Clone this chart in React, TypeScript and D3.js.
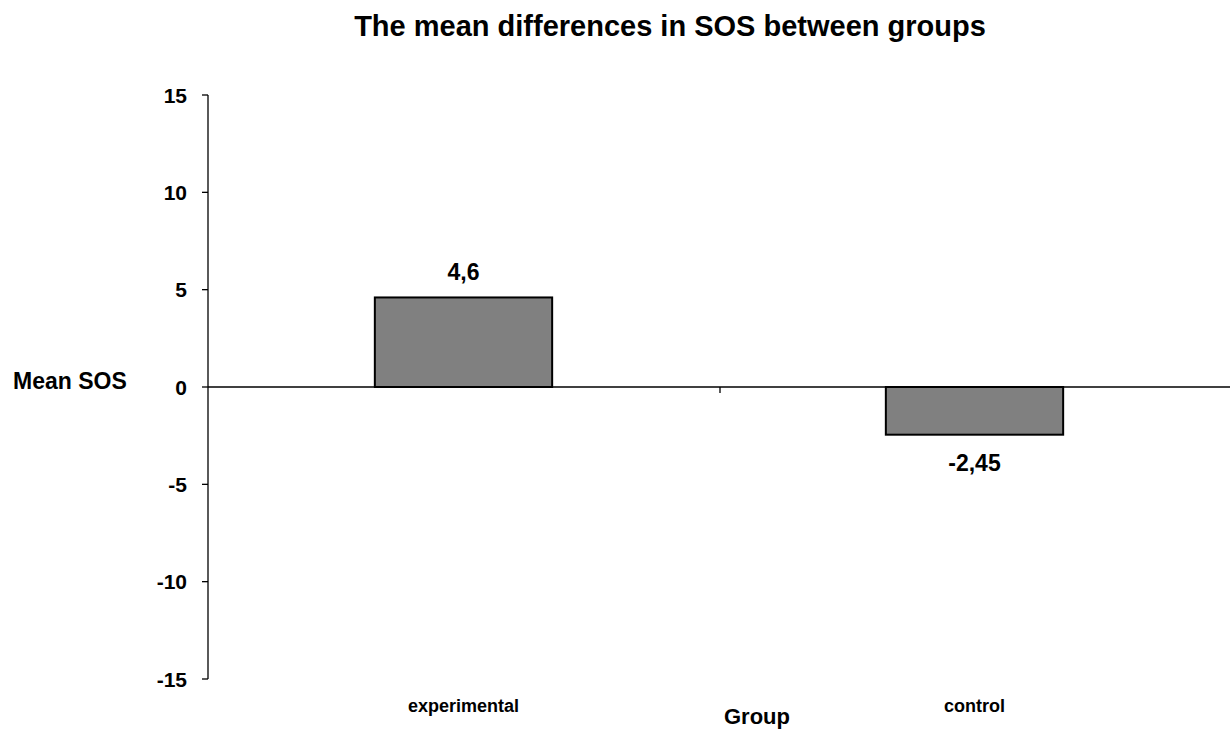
import React from "react";
import * as d3 from "d3";

const categories = ["experimental", "control"];
const values = [4.6, -2.45];
const yTicks = [15, 10, 5, 0, -5, -10, -15];
const title = "The mean differences in SOS between groups";
const yTitle = "Mean SOS";
const xTitle = "Group";

const W = 1230;
const H = 729;
const FONT = "'Liberation Sans', Arial, sans-serif";

export default function App() {
  const y = d3.scaleLinear().domain([-15, 15]).range([679, 95]);
  const x = d3.scaleBand<string>().domain(categories).range([208, 1230]).padding(0);
  const barW = x.bandwidth() * 0.347;
  const fmt = (v: number) => String(v).replace(".", ",");
  const y0 = y(0);

  return (
    <div style={{ position: "fixed", left: 0, top: 0 }}>
      <svg width={W} height={H} style={{ display: "block", background: "#fff" }} fontFamily={FONT} fontWeight="bold">
        <text x={670} y={36} textAnchor="middle" fontSize={29}>{title}</text>
        {/* y axis */}
        <line x1={208} x2={208} y1={y(15)} y2={y(-15)} stroke="#000" strokeWidth={1.3} />
        {yTicks.map((t) => (
          <g key={t}>
            <line x1={202} x2={208} y1={y(t)} y2={y(t)} stroke="#000" strokeWidth={1.3} />
            <text x={187} y={y(t) + 7.5} textAnchor="end" fontSize={21}>{t}</text>
          </g>
        ))}
        <text x={13} y={389} fontSize={23}>{yTitle}</text>
        {/* bars */}
        {categories.map((c, i) => {
          const v = values[i];
          const cx = (x(c) as number) + x.bandwidth() / 2;
          const top = Math.min(y(v), y0);
          const h = Math.abs(y(v) - y0);
          return (
            <g key={c}>
              <rect x={cx - barW / 2} y={top} width={barW} height={h} fill="#808080" stroke="#000" strokeWidth={2} />
              <text x={cx} y={v >= 0 ? y(v) - 17 : y(v) + 36} textAnchor="middle" fontSize={23}>{fmt(v)}</text>
              <text x={cx} y={712} textAnchor="middle" fontSize={18}>{c}</text>
            </g>
          );
        })}
        {/* x axis */}
        <line x1={208} x2={1230} y1={y0} y2={y0} stroke="#000" strokeWidth={1.3} />
        <line x1={720} x2={720} y1={y0} y2={y0 + 6} stroke="#000" strokeWidth={1.3} />
        <text x={757} y={724} textAnchor="middle" fontSize={22}>{xTitle}</text>
      </svg>
    </div>
  );
}
